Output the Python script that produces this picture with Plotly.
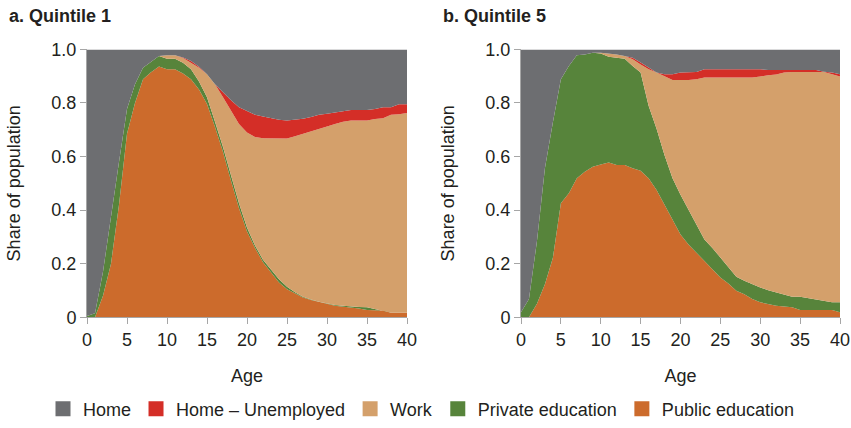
import plotly.graph_objects as go
from plotly.subplots import make_subplots

ages = list(range(0, 41))

# upper edges of each stacked layer (cumulative share)
# Quintile 1
q1_public = [0.0, 0.0, 0.08, 0.20, 0.42, 0.685, 0.80, 0.889, 0.915, 0.936, 0.926,
             0.926, 0.91, 0.889, 0.85, 0.796, 0.71, 0.617, 0.51, 0.407, 0.32,
             0.259, 0.205, 0.167, 0.13, 0.105, 0.088, 0.074, 0.064, 0.056, 0.05,
             0.043, 0.040, 0.037, 0.033, 0.027, 0.026, 0.025, 0.017, 0.017, 0.017]
q1_private = [0.005, 0.015, 0.17, 0.38, 0.58, 0.778, 0.87, 0.932, 0.955, 0.975, 0.965,
              0.965, 0.95, 0.926, 0.88, 0.821, 0.73, 0.636, 0.53, 0.426, 0.335,
              0.268, 0.215, 0.179, 0.142, 0.114, 0.093, 0.077, 0.066, 0.058, 0.051,
              0.046, 0.043, 0.040, 0.038, 0.037, 0.030, 0.025, 0.017, 0.017, 0.017]
q1_work = [0.005, 0.015, 0.17, 0.38, 0.58, 0.778, 0.87, 0.932, 0.955, 0.975, 0.978,
           0.978, 0.968, 0.951, 0.932, 0.907, 0.87, 0.821, 0.77, 0.722, 0.69,
           0.673, 0.668, 0.667, 0.667, 0.667, 0.676, 0.685, 0.693, 0.701, 0.712,
           0.722, 0.73, 0.735, 0.735, 0.735, 0.74, 0.743, 0.756, 0.758, 0.763]
q1_unemployed = [0.005, 0.015, 0.17, 0.38, 0.58, 0.778, 0.87, 0.932, 0.955, 0.975, 0.978,
                 0.978, 0.97, 0.957, 0.935, 0.907, 0.87, 0.84, 0.81, 0.784, 0.77,
                 0.756, 0.75, 0.743, 0.737, 0.735, 0.737, 0.741, 0.748, 0.756, 0.76,
                 0.765, 0.77, 0.774, 0.774, 0.774, 0.778, 0.784, 0.784, 0.795, 0.795]

# Quintile 5
q5_public = [0.0, 0.0, 0.05, 0.123, 0.222, 0.426, 0.463, 0.519, 0.543, 0.562, 0.570,
             0.578, 0.568, 0.568, 0.556, 0.547, 0.519, 0.475, 0.420, 0.364, 0.309,
             0.272, 0.241, 0.212, 0.179, 0.148, 0.126, 0.099, 0.086, 0.068, 0.056,
             0.049, 0.043, 0.040, 0.037, 0.027, 0.027, 0.027, 0.027, 0.027, 0.019]
q5_private = [0.019, 0.068, 0.284, 0.556, 0.728, 0.889, 0.938, 0.978, 0.981, 0.988, 0.985,
              0.973, 0.969, 0.965, 0.938, 0.914, 0.790, 0.704, 0.605, 0.519, 0.457,
              0.401, 0.346, 0.290, 0.259, 0.222, 0.185, 0.151, 0.136, 0.123, 0.111,
              0.101, 0.093, 0.086, 0.077, 0.077, 0.072, 0.065, 0.062, 0.056, 0.056]
q5_work = [0.019, 0.068, 0.284, 0.556, 0.728, 0.889, 0.938, 0.978, 0.981, 0.988, 0.988,
           0.985, 0.981, 0.975, 0.963, 0.944, 0.926, 0.914, 0.901, 0.886, 0.886,
           0.886, 0.889, 0.895, 0.895, 0.895, 0.895, 0.895, 0.895, 0.895, 0.899,
           0.904, 0.906, 0.914, 0.916, 0.916, 0.916, 0.916, 0.916, 0.907, 0.899]
q5_unemployed = [0.019, 0.068, 0.284, 0.556, 0.728, 0.889, 0.938, 0.978, 0.981, 0.988, 0.988,
                 0.985, 0.981, 0.975, 0.969, 0.951, 0.932, 0.914, 0.907, 0.907, 0.914,
                 0.914, 0.916, 0.926, 0.926, 0.926, 0.926, 0.926, 0.926, 0.926, 0.926,
                 0.923, 0.923, 0.923, 0.923, 0.923, 0.923, 0.923, 0.917, 0.914, 0.907]
home_top = [1.0] * len(ages)

layer_names = ["Public education", "Private education", "Work", "Home \u2013 Unemployed", "Home"]
layer_colors = ["#cc6b2c", "#57843b", "#d4a06b", "#d42e27", "#6d6e71"]

panels = [
    [q1_public, q1_private, q1_work, q1_unemployed, home_top],
    [q5_public, q5_private, q5_work, q5_unemployed, home_top],
]

FONT = "Liberation Sans, Arial, Helvetica, sans-serif"
TEXT = "#231f20"

W, H = 851, 428


def px(x):
    return x / W


def py(y):
    return 1 - y / H


fig = make_subplots(rows=1, cols=2)

for col, edges in enumerate(panels, start=1):
    for i, (name, color, y) in enumerate(zip(layer_names, layer_colors, edges)):
        fig.add_trace(
            go.Scatter(
                x=ages,
                y=y,
                name=name,
                mode="lines",
                line=dict(width=0, color=color),
                fillcolor=color,
                fill="tozeroy" if i == 0 else "tonexty",
                showlegend=False,
                hoverinfo="skip",
            ),
            row=1,
            col=col,
        )

# legend entries drawn as square swatches
for i, (name, color) in enumerate(zip(layer_names, layer_colors)):
    fig.add_trace(
        go.Scatter(
            x=[None],
            y=[None],
            name=name,
            mode="markers",
            marker=dict(symbol="square", size=15, color=color),
            legendrank=5 - i,
        ),
        row=1,
        col=1,
    )

axis_style = dict(
    showgrid=False,
    zeroline=False,
    showline=True,
    linecolor="#a6a6a6",
    linewidth=1,
    ticks="outside",
    tickcolor="#a6a6a6",
    ticklen=6,
    automargin=False,
    tickfont=dict(size=18, color=TEXT, family=FONT),
)

fig.update_xaxes(
    **axis_style,
    range=[0, 40],
    tickvals=[0, 5, 10, 15, 20, 25, 30, 35, 40],
    title=dict(text="Age", font=dict(size=18, color=TEXT, family=FONT), standoff=20),
)
fig.update_yaxes(
    **axis_style,
    range=[0, 1],
    tickvals=[0, 0.2, 0.4, 0.6, 0.8, 1.0],
    ticktext=["0", "0.2", "0.4", "0.6", "0.8", "1.0"],
    title=dict(text="Share of population", font=dict(size=18, color=TEXT, family=FONT), standoff=26),
)

fig.update_layout(
    xaxis=dict(domain=[px(87), px(407)], anchor="y"),
    xaxis2=dict(domain=[px(521), px(840)], anchor="y2"),
    yaxis=dict(domain=[py(321), py(50)], anchor="x"),
    yaxis2=dict(domain=[py(321), py(50)], anchor="x2"),
)

for label, x0 in [("<b>a. Quintile 1</b>", 7), ("<b>b. Quintile 5</b>", 441)]:
    fig.add_annotation(text=label, x=px(x0), y=py(16), xref="paper", yref="paper",
                       xanchor="left", yanchor="middle", showarrow=False,
                       font=dict(size=18, color=TEXT, family=FONT))

fig.update_layout(
    width=W,
    height=H,
    margin=dict(l=0, r=0, t=0, b=0),
    paper_bgcolor="white",
    plot_bgcolor="white",
    font=dict(family=FONT, size=18, color=TEXT),
    legend=dict(
        orientation="h",
        x=px(421),
        xanchor="center",
        y=py(414),
        yanchor="middle",
        font=dict(size=18, family=FONT, color=TEXT),
        traceorder="normal",
    ),
)

# drop the default page margin so the figure fills the window exactly
fig.write_html(
    "out.html",
    config={"displayModeBar": False},
    post_script="document.body.style.margin='0';document.body.style.overflow='hidden';",
)
